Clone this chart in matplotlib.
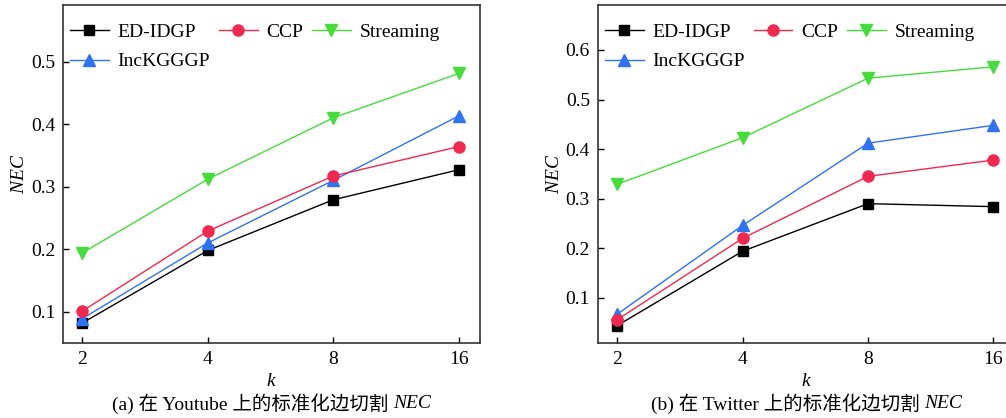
import numpy as np
import matplotlib
matplotlib.use("Agg")
import matplotlib.pyplot as plt

plt.rcParams['font.family'] = ['Liberation Serif', 'Noto Sans CJK SC']
plt.rcParams['mathtext.fontset'] = 'custom'
plt.rcParams['mathtext.rm'] = 'Liberation Serif'
plt.rcParams['mathtext.it'] = 'Liberation Serif:italic'
plt.rcParams['font.size'] = 14

# partition counts
k_labels = ['2', '4', '8', '16']

# normalized edge cut, Youtube
yt_edidgp    = [0.082, 0.198, 0.279, 0.327]
yt_ccp       = [0.101, 0.229, 0.317, 0.364]
yt_streaming = [0.194, 0.312, 0.410, 0.481]
yt_inckgggp  = [0.089, 0.210, 0.310, 0.413]

# normalized edge cut, Twitter
tw_edidgp    = [0.044, 0.194, 0.290, 0.284]
tw_ccp       = [0.056, 0.220, 0.345, 0.378]
tw_streaming = [0.329, 0.423, 0.543, 0.566]
tw_inckgggp  = [0.067, 0.246, 0.412, 0.448]

BLACK = '#000000'
RED   = '#F2284E'
GREEN = '#44DD3A'
BLUE  = '#2E72F5'

fig = plt.figure(figsize=(10.06, 4.18), dpi=100)
ax1 = fig.add_axes([0.0631, 0.1794, 0.414, 0.8079])
ax2 = fig.add_axes([0.5947, 0.1794, 0.414, 0.8079])
captions = []

def draw(ax, edidgp, ccp, streaming, inckgggp, ylim, yticks, caption):
    x = np.arange(len(k_labels))
    h1, = ax.plot(x, edidgp, color=BLACK, lw=1.0, marker='s', ms=7, label='ED-IDGP')
    h4, = ax.plot(x, inckgggp, color=BLUE, lw=1.0, marker='^', ms=9, label='IncKGGGP')
    h2, = ax.plot(x, ccp, color=RED, lw=1.0, marker='o', ms=8, label='CCP')
    h3, = ax.plot(x, streaming, color=GREEN, lw=1.0, marker='v', ms=9, label='Streaming')
    ax.set_xlim(-0.15, 3.17)
    ax.set_ylim(*ylim)
    ax.set_xticks(x)
    ax.set_xticklabels(k_labels)
    ax.set_yticks(yticks)
    ax.set_yticklabels(['%.1f' % v for v in yticks])
    ax.tick_params(direction='in', length=4, width=1, pad=6, labelsize=14)
    for s in ax.spines.values():
        s.set_linewidth(1.2)
        s.set_color('#333333')
    ax.set_xlabel('$k$', labelpad=3)
    ax.set_ylabel('$NEC$', labelpad=2)
    ax.legend(handles=[h1, h4, h2, h3], ncol=3, loc='upper left',
              bbox_to_anchor=(-0.008, 0.975), frameon=False, borderpad=0,
              handlelength=2.0, handletextpad=0.45, columnspacing=0.45,
              labelspacing=0.6, fontsize=14)
    # caption: plain part plus italic NEC, centred under the axes together
    pos = ax.get_position()
    t1 = fig.text(0, 0.035, caption, ha='left', va='center', fontsize=14)
    t2 = fig.text(0, 0.035, 'NEC', ha='left', va='center', fontsize=14,
                  style='italic', family='Liberation Serif')
    captions.append(((pos.x0 + pos.x1) / 2, t1, t2))

draw(ax1, yt_edidgp, yt_ccp, yt_streaming, yt_inckgggp, (0.05, 0.59),
     [0.1, 0.2, 0.3, 0.4, 0.5], '(a) 在 Youtube 上的标准化边切割 ')
draw(ax2, tw_edidgp, tw_ccp, tw_streaming, tw_inckgggp, (0.009, 0.69),
     [0.1, 0.2, 0.3, 0.4, 0.5, 0.6], '(b) 在 Twitter 上的标准化边切割 ')

fig.canvas.draw()
r = fig.canvas.get_renderer()
W = fig.get_figwidth() * fig.dpi
for cx, t1, t2 in captions:
    w1 = t1.get_window_extent(r).width / W
    w2 = t2.get_window_extent(r).width / W
    x0 = cx - (w1 + w2) / 2
    t1.set_x(x0)
    t2.set_x(x0 + w1)

fig.savefig('out.png', dpi=100)
